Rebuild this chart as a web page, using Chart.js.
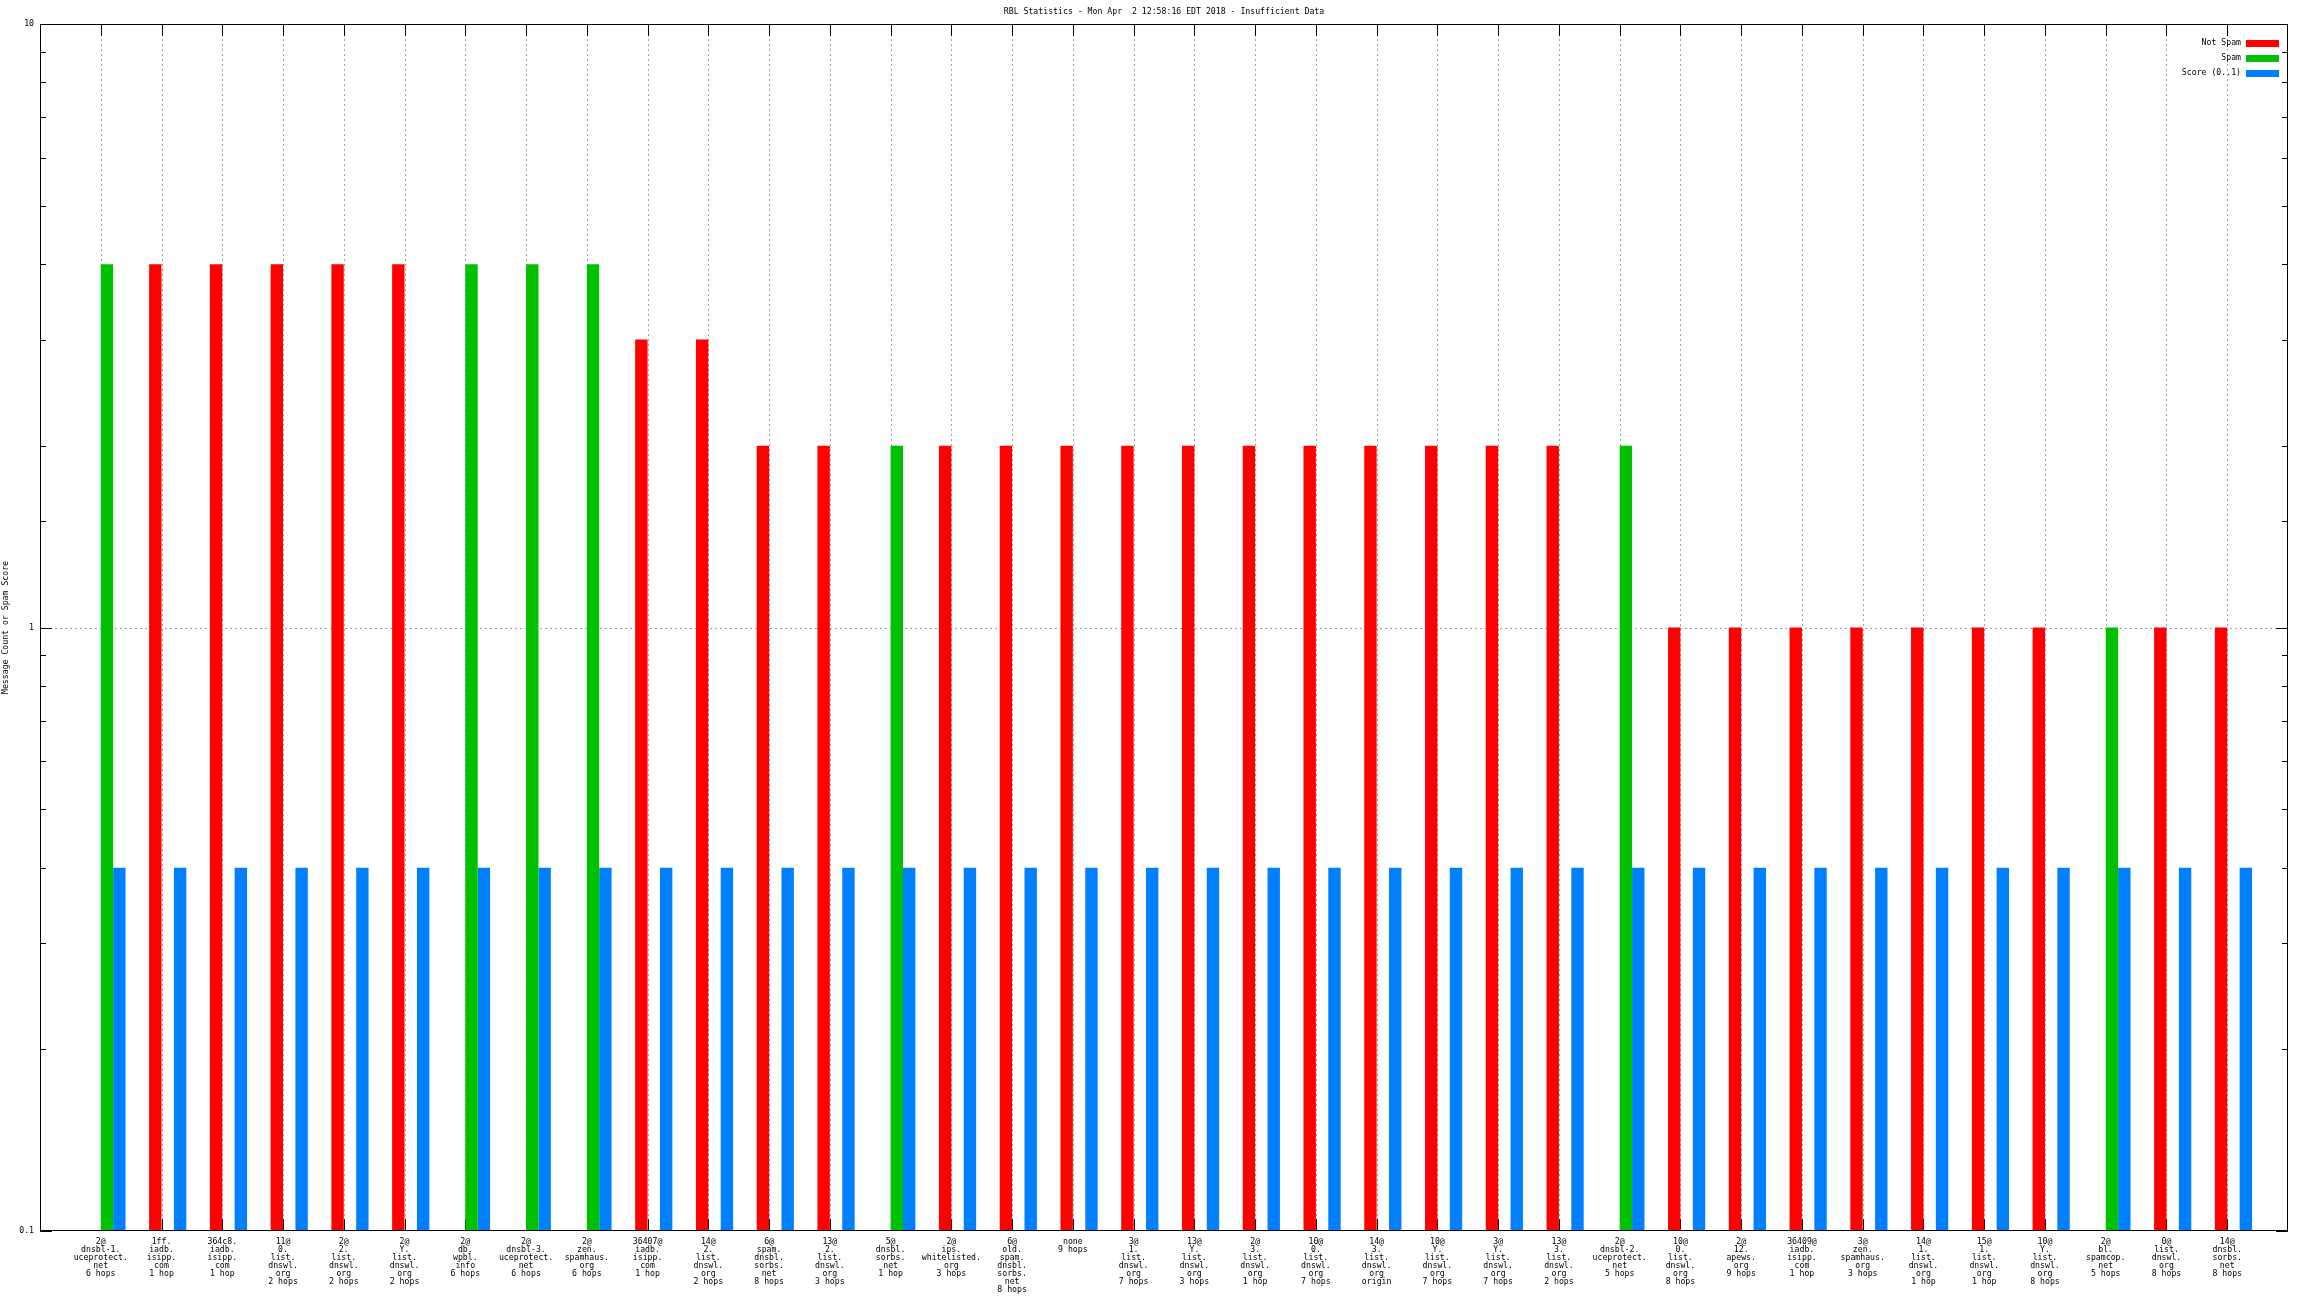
<!DOCTYPE html>
<html><head><meta charset="utf-8">
<script src="https://cdn.jsdelivr.net/npm/chart.js@4/dist/chart.umd.min.js"></script>
<style>html,body{margin:0;padding:0;background:#fff}canvas{display:block}</style>
</head><body>
<canvas id="c" width="2304" height="1296"></canvas>
<script>
const TITLE = 'RBL Statistics - Mon Apr  2 12:58:16 EDT 2018 - Insufficient Data';
const Y_TITLE = 'Message Count or Spam Score';

const categories = [
 ['2@','dnsbl-1.','uceprotect.','net','6 hops'],
 ['1ff.','iadb.','isipp.','com','1 hop'],
 ['364c8.','iadb.','isipp.','com','1 hop'],
 ['11@','0.','list.','dnswl.','org','2 hops'],
 ['2@','2.','list.','dnswl.','org','2 hops'],
 ['2@','Y.','list.','dnswl.','org','2 hops'],
 ['2@','db.','wpbl.','info','6 hops'],
 ['2@','dnsbl-3.','uceprotect.','net','6 hops'],
 ['2@','zen.','spamhaus.','org','6 hops'],
 ['36407@','iadb.','isipp.','com','1 hop'],
 ['14@','2.','list.','dnswl.','org','2 hops'],
 ['6@','spam.','dnsbl.','sorbs.','net','8 hops'],
 ['13@','2.','list.','dnswl.','org','3 hops'],
 ['5@','dnsbl.','sorbs.','net','1 hop'],
 ['2@','ips.','whitelisted.','org','3 hops'],
 ['6@','old.','spam.','dnsbl.','sorbs.','net','8 hops'],
 ['none','9 hops'],
 ['3@','1.','list.','dnswl.','org','7 hops'],
 ['13@','Y.','list.','dnswl.','org','3 hops'],
 ['2@','3.','list.','dnswl.','org','1 hop'],
 ['10@','0.','list.','dnswl.','org','7 hops'],
 ['14@','3.','list.','dnswl.','org','origin'],
 ['10@','Y.','list.','dnswl.','org','7 hops'],
 ['3@','Y.','list.','dnswl.','org','7 hops'],
 ['13@','3.','list.','dnswl.','org','2 hops'],
 ['2@','dnsbl-2.','uceprotect.','net','5 hops'],
 ['10@','0.','list.','dnswl.','org','8 hops'],
 ['2@','12.','apews.','org','9 hops'],
 ['36409@','iadb.','isipp.','com','1 hop'],
 ['3@','zen.','spamhaus.','org','3 hops'],
 ['14@','1.','list.','dnswl.','org','1 hop'],
 ['15@','1.','list.','dnswl.','org','1 hop'],
 ['10@','Y.','list.','dnswl.','org','8 hops'],
 ['2@','bl.','spamcop.','net','5 hops'],
 ['0@','list.','dnswl.','org','8 hops'],
 ['14@','dnsbl.','sorbs.','net','8 hops']
];

const notSpam = [null,4,4,4,4,4,null,null,null,3,3,2,2,null,2,2,2,2,2,2,2,2,2,2,2,null,1,1,1,1,1,1,1,null,1,1];
const spam    = [4,null,null,null,null,null,4,4,4,null,null,null,null,2,null,null,null,null,null,null,null,null,null,null,null,2,null,null,null,null,null,null,null,1,null,null];
const score   = [0.4,0.4,0.4,0.4,0.4,0.4,0.4,0.4,0.4,0.4,0.4,0.4,0.4,0.4,0.4,0.4,0.4,0.4,0.4,0.4,0.4,0.4,0.4,0.4,0.4,0.4,0.4,0.4,0.4,0.4,0.4,0.4,0.4,0.4,0.4,0.4];

const seriesNames  = ['Not Spam','Spam','Score (0..1)'];
const seriesColors = ['#ff0000','#00c000','#0080ff'];
const yTickLabels  = [0.1, 1, 10];

const FONT = 'DejaVu Sans Mono';
const FS = 8.2;

function pts(arr){ return arr.map((v,i)=>({x:i, y:v})); }
function isDecade(v){ const l = Math.log10(v); return Math.abs(l - Math.round(l)) < 1e-6; }

const gnuplotFrame = {
  id: 'gnuplotFrame',
  beforeDatasetsDraw(chart) {
    const {ctx, chartArea: a, scales: {x, y}} = chart;
    ctx.save();
    ctx.lineWidth = 1;
    ctx.strokeStyle = '#a0a0a0';
    ctx.setLineDash([2,3]);
    x.ticks.forEach(t => {
      if (t.value >= 0 && t.value < categories.length) {
        const px = Math.round(x.getPixelForValue(t.value)) + 0.5;
        ctx.beginPath(); ctx.moveTo(px, a.top); ctx.lineTo(px, a.bottom); ctx.stroke();
      }
    });
    y.ticks.forEach(t => {
      if (isDecade(t.value) && t.value > y.min * 1.0001 && t.value < y.max * 0.9999) {
        const py = Math.round(y.getPixelForValue(t.value)) + 0.5;
        ctx.beginPath(); ctx.moveTo(a.left, py); ctx.lineTo(a.right, py); ctx.stroke();
      }
    });
    ctx.setLineDash([]);
    ctx.strokeStyle = '#000';
    x.ticks.forEach(t => {
      if (t.value >= 0 && t.value < categories.length) {
        const px = Math.round(x.getPixelForValue(t.value)) + 0.5;
        ctx.beginPath();
        ctx.moveTo(px, a.bottom); ctx.lineTo(px, a.bottom - 12);
        ctx.moveTo(px, a.top); ctx.lineTo(px, a.top + 12);
        ctx.stroke();
      }
    });
    y.ticks.forEach(t => {
      const py = Math.round(y.getPixelForValue(t.value)) + 0.5;
      const len = isDecade(t.value) ? 12 : 6;
      ctx.beginPath();
      ctx.moveTo(a.left, py); ctx.lineTo(a.left + len, py);
      ctx.moveTo(a.right, py); ctx.lineTo(a.right - len, py);
      ctx.stroke();
    });
    ctx.restore();
  },
  afterDatasetsDraw(chart) {
    const {ctx, chartArea: a} = chart;
    ctx.save();
    ctx.strokeStyle = '#000';
    ctx.lineWidth = 1;
    ctx.strokeRect(Math.round(a.left) + 0.5, Math.round(a.top) + 0.5,
                   Math.round(a.right - a.left) - 1, Math.round(a.bottom - a.top) - 1);
    ctx.font = FS + 'px "' + FONT + '"';
    ctx.fillStyle = '#000';
    ctx.textBaseline = 'middle';
    // title
    ctx.textAlign = 'center';
    ctx.fillText(TITLE, (a.left + a.right) / 2, 12);
    // legend
    seriesNames.forEach((name, i) => {
      const yc = Math.round(a.top) + 19 + 15 * i;
      ctx.textAlign = 'right';
      ctx.fillStyle = '#000';
      ctx.fillText(name, a.right - 47, yc);
      ctx.fillStyle = seriesColors[i];
      ctx.fillRect(a.right - 42, yc - 3, 33, 7);
    });
    ctx.restore();
  }
};

new Chart(document.getElementById('c'), {
  type: 'bar',
  data: {
    datasets: [
      { label: 'slot', data: pts(categories.map(() => null)), backgroundColor: 'rgba(0,0,0,0)' },
      { label: seriesNames[0], data: pts(notSpam), backgroundColor: seriesColors[0] },
      { label: seriesNames[1], data: pts(spam), backgroundColor: seriesColors[1] },
      { label: seriesNames[2], data: pts(score), backgroundColor: seriesColors[2] }
    ]
  },
  options: {
    responsive: false,
    animation: false,
    devicePixelRatio: 1,
    layout: { padding: { top: 24, right: 16, left: 0, bottom: 0 } },
    plugins: { legend: { display: false }, title: { display: false }, tooltip: { enabled: false } },
    datasets: { bar: { barPercentage: 1, categoryPercentage: 0.816, borderWidth: 0 } },
    scales: {
      x: {
        type: 'linear', min: -1, max: 36, offset: false,
        grid: { display: false, drawTicks: false }, border: { display: false },
        ticks: {
          stepSize: 1, autoSkip: false, maxRotation: 0, minRotation: 0, maxTicksLimit: 100,
          padding: 7, color: '#000', font: { family: FONT, size: FS, lineHeight: 0.98 },
          callback: v => (Number.isInteger(v) && v >= 0 && v < categories.length) ? categories[v] : ''
        },
        afterFit: s => { s.height = 65; }
      },
      y: {
        type: 'logarithmic', min: 0.1, max: 10,
        grid: { display: false, drawTicks: false }, border: { display: false },
        ticks: {
          autoSkip: false, padding: 6, color: '#000', font: { family: FONT, size: FS, lineHeight: 1 },
          callback: v => { const t = yTickLabels.find(k => Math.abs(Math.log10(k) - Math.log10(v)) < 1e-6); return t === undefined ? '' : String(t); }
        },
        title: { display: true, text: Y_TITLE, color: '#000', font: { family: FONT, size: FS, lineHeight: 1 }, padding: { top: 2, bottom: 0 } },
        afterFit: s => { s.width = 40; }
      }
    }
  },
  plugins: [gnuplotFrame]
});
</script>
</body></html>
